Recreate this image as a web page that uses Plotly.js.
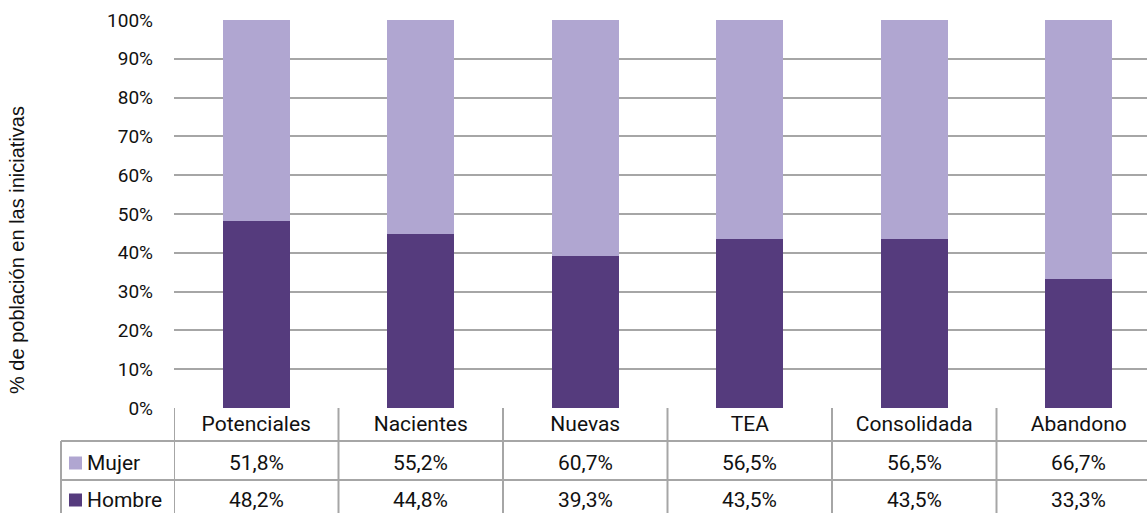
<!DOCTYPE html>
<html>
<head>
<meta charset="utf-8">
<script src="https://cdn.plot.ly/plotly-3.0.1.min.js"></script>
<style>html,body{margin:0;padding:0;background:#fff;}#chart{width:1147px;height:513px;}</style>
</head>
<body>
<div id="chart"></div>
<script>
const categories = ['Potenciales', 'Nacientes', 'Nuevas', 'TEA', 'Consolidada', 'Abandono'];
const seriesNames = ['Mujer', 'Hombre'];
const mujer = [51.8, 55.2, 60.7, 56.5, 56.5, 66.7];
const hombre = [48.2, 44.8, 39.3, 43.5, 43.5, 33.3];
const yTickVals = [0, 10, 20, 30, 40, 50, 60, 70, 80, 90, 100];
const yTitle = '% de población en las iniciativas';

const colMujer = '#B0A6D1';
const colHombre = '#553B7D';
const gridCol = '#A6A6A6';
const font = 'Roboto, "Open Sans", sans-serif';
const titleFont = '"Liberation Sans", Arial, sans-serif';
const txtCol = '#111';

const W = 1147, H = 513;
const mL = 174, mT = 20, mB = 105;
const plotH = H - mT - mB;          // 388
const plotW = W - mL;               // 973
const catPx = 164.5;
const xMax = -0.5 + plotW / catPx;

const fmt = v => v.toFixed(1).replace('.', ',') + '%';

const traces = [
  {type: 'bar', name: seriesNames[1], x: categories, y: hombre, marker: {color: colHombre}, hoverinfo: 'x+y+name'},
  {type: 'bar', name: seriesNames[0], x: categories, y: mujer, marker: {color: colMujer}, hoverinfo: 'x+y+name'}
];

const py = px => -px / plotH;          // pixels below axis -> paper y
const pxX = px => (px - mL) / plotW;   // absolute pixel x -> paper x

const row1 = py(33), row2 = py(72), rowEnd = py(120);
const labLeft = pxX(61);

const shapes = [];
const line = {color: gridCol, width: 2};
for (let i = 0; i <= categories.length; i++) {
  shapes.push({type: 'line', xref: 'x', yref: 'paper', x0: i - 0.5, x1: i - 0.5, y0: 0, y1: rowEnd, line: line});
}
[row1, row2].forEach(y => shapes.push({type: 'line', xref: 'paper', yref: 'paper', x0: labLeft, x1: 1.02, y0: y, y1: y, line: line}));
shapes.push({type: 'line', xref: 'paper', yref: 'paper', x0: labLeft, x1: labLeft, y0: row1, y1: rowEnd, line: line});

const rows = [
  {name: seriesNames[0], vals: mujer, color: colMujer, c: py(55)},
  {name: seriesNames[1], vals: hombre, color: colHombre, c: py(92)}
];
const annotations = [];
rows.forEach(r => {
  shapes.push({type: 'rect', xref: 'paper', yref: 'paper', x0: pxX(69), x1: pxX(82), y0: r.c - 6.5 / plotH, y1: r.c + 6.5 / plotH, fillcolor: r.color, line: {width: 0}});
  annotations.push({xref: 'paper', yref: 'paper', x: pxX(85), y: r.c, text: r.name, showarrow: false, xanchor: 'left', yanchor: 'middle', font: {family: font, size: 21, color: txtCol}});
  r.vals.forEach((v, i) => {
    annotations.push({xref: 'x', yref: 'paper', x: categories[i], y: r.c, text: fmt(v), showarrow: false, xanchor: 'center', yanchor: 'middle', font: {family: font, size: 21, color: txtCol}});
  });
});
annotations.push({xref: 'paper', yref: 'paper', x: pxX(17), y: (408 - 250) / plotH, text: yTitle, textangle: -90, showarrow: false, xanchor: 'center', yanchor: 'middle', font: {family: titleFont, size: 20, color: txtCol}});

const layout = {
  width: W, height: H,
  margin: {l: mL, r: 0, t: mT, b: mB, pad: 0},
  paper_bgcolor: '#fff', plot_bgcolor: '#fff',
  barmode: 'stack', bargap: 0.59,
  showlegend: false,
  font: {family: font, size: 18, color: txtCol},
  xaxis: {
    type: 'category', range: [-0.5, xMax], showgrid: false, zeroline: false,
    showline: false, ticks: '', tickfont: {family: font, size: 21, color: txtCol},
    ticklabelstandoff: 1, fixedrange: true
  },
  yaxis: {
    range: [0, 100], tickvals: yTickVals, ticktext: yTickVals.map(v => v + '%'),
    showgrid: true, gridcolor: gridCol, gridwidth: 2, zeroline: false,
    showline: false, ticks: '', ticklabelstandoff: 20,
    tickfont: {family: font, size: 19, color: txtCol},
    automargin: false, fixedrange: true
  },
  shapes: shapes,
  annotations: annotations
};

Plotly.newPlot('chart', traces, layout, {displayModeBar: false, staticPlot: true});
</script>
</body>
</html>
